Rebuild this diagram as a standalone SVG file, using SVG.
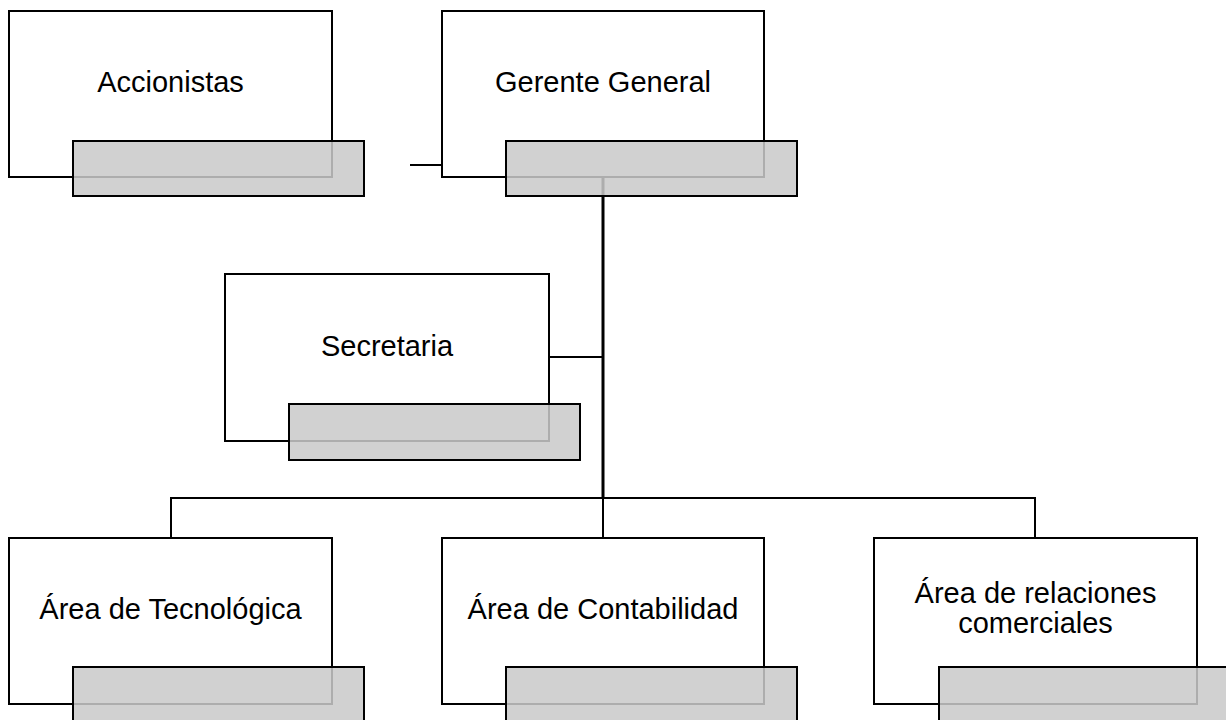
<svg xmlns="http://www.w3.org/2000/svg" width="1226" height="720" viewBox="0 0 1226 720">
  <style>
    .card { fill: #ffffff; stroke: #000000; stroke-width: 2; }
    .tab { fill: #c9c9c9; fill-opacity: 0.86; stroke: #000000; stroke-width: 2; }
    .label { font-family: "Liberation Sans", Arial, sans-serif; font-size: 29px; fill: #000000; text-anchor: middle; }
    .wire { fill: none; stroke: #000000; stroke-width: 2; }
    .trunk { stroke-width: 3; }
  </style>
  <rect width="1226" height="720" fill="#ffffff"/>

  <!-- connectors -->
  <g id="connectors">
    <line class="wire" x1="410" y1="165" x2="442" y2="165"/>
    <line class="wire trunk" x1="603" y1="178" x2="603" y2="499"/>
    <line class="wire" x1="549" y1="357" x2="603" y2="357"/>
    <polyline class="wire" points="171,538 171,498 1035,498 1035,538"/>
    <line class="wire" x1="603" y1="498" x2="603" y2="538"/>
  </g>

  <g id="accionistas">
    <rect class="card" x="9" y="11" width="323" height="166"/>
    <text class="label" x="170.5" y="92">Accionistas</text>
    <rect class="tab" x="73" y="141" width="291" height="55"/>
  </g>

  <g id="gerente-general">
    <rect class="card" x="442" y="11" width="322" height="166"/>
    <text class="label" x="603" y="92">Gerente General</text>
    <rect class="tab" x="506" y="141" width="291" height="55"/>
  </g>

  <g id="secretaria">
    <rect class="card" x="225" y="274" width="324" height="167"/>
    <text class="label" x="387" y="356">Secretaria</text>
    <rect class="tab" x="289" y="404" width="291" height="56"/>
  </g>

  <g id="area-tecnologica">
    <rect class="card" x="9" y="538" width="323" height="166"/>
    <text class="label" x="170.5" y="619">Área de Tecnológica</text>
    <rect class="tab" x="73" y="667" width="291" height="56"/>
  </g>

  <g id="area-contabilidad">
    <rect class="card" x="442" y="538" width="322" height="166"/>
    <text class="label" x="603" y="619">Área de Contabilidad</text>
    <rect class="tab" x="506" y="667" width="291" height="56"/>
  </g>

  <g id="area-relaciones">
    <rect class="card" x="874" y="538" width="323" height="166"/>
    <text class="label" x="1035.5" y="603">Área de relaciones</text>
    <text class="label" x="1035.5" y="633">comerciales</text>
    <rect class="tab" x="939" y="667" width="291" height="56"/>
  </g>
</svg>
